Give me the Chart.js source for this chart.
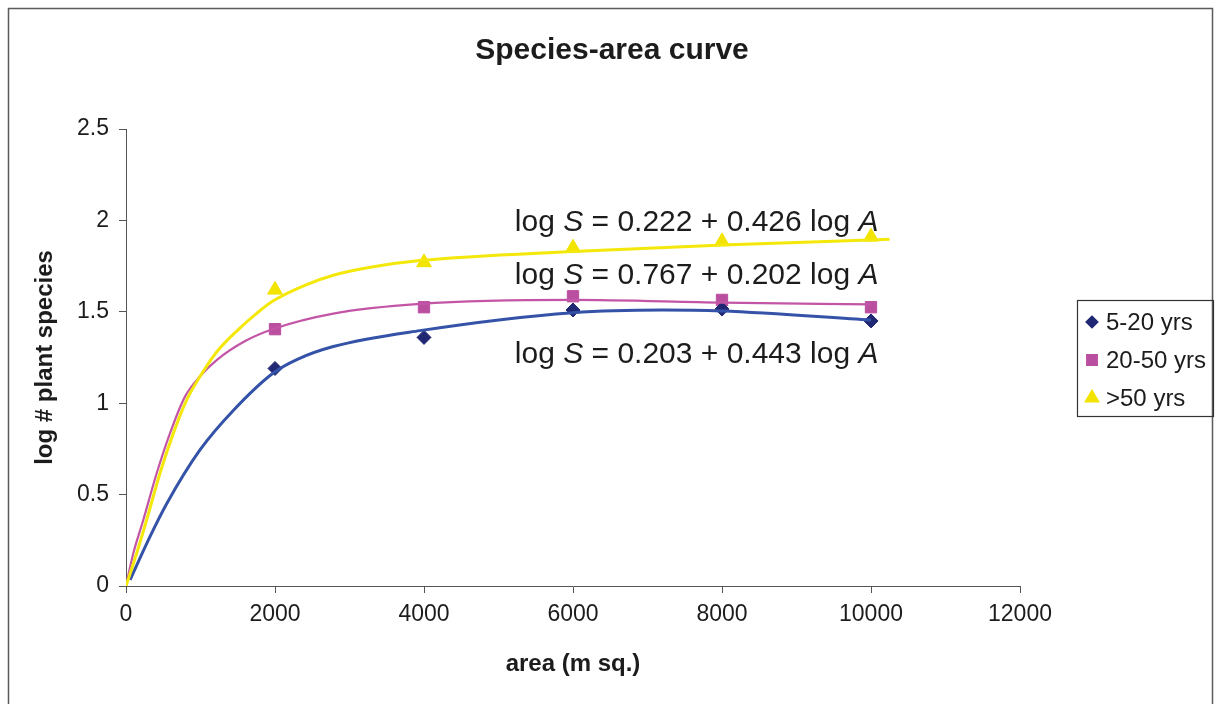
<!DOCTYPE html>
<html>
<head>
<meta charset="utf-8">
<title>Species-area curve</title>
<script src="https://cdn.jsdelivr.net/npm/chart.js@4/dist/chart.umd.min.js"></script>
<style>
	html, body { margin: 0; padding: 0; background: #fff; }
	#wrap { width: 1217px; height: 704px; }
</style>
</head>
<body>
<div id="wrap"><canvas id="speciesChart"></canvas></div>
<script>
// sampled plots (m sq.) and log of species counts
const areas = [2000, 4000, 6000, 8000, 10000];
const young = [1.19, 1.36, 1.51, 1.515, 1.45];   // 5-20 yrs
const middle = [1.405, 1.525, 1.585, 1.565, 1.525]; // 20-50 yrs
const old = [1.62, 1.77, 1.85, 1.885, 1.91];       // >50 yrs

// fitted trend curves
const youngFitX = [54, 322, 546, 993, 1440, 1977, 2300, 2783, 3946, 6000, 7200, 8000, 10000];
const youngFitY = [0.033, 0.27, 0.45, 0.744, 0.96, 1.165, 1.24, 1.31, 1.397, 1.495, 1.51, 1.504, 1.455];
const middleFitX = [0, 98, 232, 412, 590, 792, 1000, 1217, 1600, 1977, 2783, 3946, 6000, 8000, 10000];
const middleFitY = [0, 0.179, 0.361, 0.617, 0.835, 1.036, 1.15, 1.236, 1.34, 1.406, 1.49, 1.543, 1.565, 1.55, 1.541];
const oldFitX = [0, 143, 277, 456, 635, 814, 1000, 1217, 1500, 1750, 1977, 2400, 2783, 3300, 3946, 6000, 8000, 10250];
const oldFitY = [0, 0.179, 0.361, 0.617, 0.835, 1.017, 1.15, 1.28, 1.40, 1.49, 1.56, 1.645, 1.70, 1.745, 1.78, 1.83, 1.865, 1.897];

const seriesNames = ['5-20 yrs', '20-50 yrs', '>50 yrs'];
const xTicks = [0, 2000, 4000, 6000, 8000, 10000, 12000];
const yTicks = [0, 0.5, 1, 1.5, 2, 2.5];

// equation labels: log S = a + b log A
const intercepts = [0.222, 0.767, 0.203];
const slopes = [0.426, 0.202, 0.443];

const markerColors = ['#202873', '#BA4FA0', '#F2E400'];
const lineColors = ['#3453A8', '#C355A6', '#F4E80A'];

function pairs(xs, ys) {
	return xs.map((x, i) => ({ x: x, y: ys[i] }));
}

const font = '"Liberation Sans", Arial, sans-serif';
const ink = '#1c1c1c';

// frame, title, equations and legend
const decorations = {
	id: 'decorations',
	beforeDraw(chart) {
		const ctx = chart.ctx;
		ctx.save();
		ctx.fillStyle = '#fff';
		ctx.fillRect(0, 0, chart.width, chart.height);
		ctx.strokeStyle = '#5a5a5a';
		ctx.lineWidth = 1.5;
		ctx.strokeRect(8.5, 8.5, 1204, 720);
		ctx.fillStyle = ink;
		ctx.font = 'bold 30px ' + font;
		ctx.textAlign = 'center';
		ctx.textBaseline = 'middle';
		ctx.fillText('Species-area curve', 612, 51);
		ctx.restore();
	},
	afterDraw(chart) {
		const ctx = chart.ctx;
		const xs = chart.scales.x;
		const ys = chart.scales.y;
		ctx.save();

		// equations, right-aligned near the end of the curves
		const eqY = [2.0, 1.71, 1.28];
		const right = xs.getPixelForValue(10100);
		eqY.forEach((yv, k) => {
			const parts = [
				['log ', false],
				['S', true],
				[' = ' + intercepts[k].toFixed(3) + ' + ' + slopes[k].toFixed(3) + ' log ', false],
				['A', true]
			];
			let w = 0;
			parts.forEach(p => {
				ctx.font = (p[1] ? 'italic ' : '') + '30px ' + font;
				w += ctx.measureText(p[0]).width;
			});
			let x = right - w;
			const base = ys.getPixelForValue(yv) + 10.8;
			ctx.fillStyle = ink;
			ctx.textAlign = 'left';
			ctx.textBaseline = 'alphabetic';
			parts.forEach(p => {
				ctx.font = (p[1] ? 'italic ' : '') + '30px ' + font;
				ctx.fillText(p[0], x, base);
				x += ctx.measureText(p[0]).width;
			});
		});

		// legend box
		ctx.strokeStyle = '#333';
		ctx.lineWidth = 1.2;
		ctx.strokeRect(1077.5, 300.5, 136, 116);
		const rows = [322, 360, 398];
		const styles = ['rectRot', 'rect', 'triangle'];
		const radii = [6, 7.5, 8];
		rows.forEach((y, i) => {
			ctx.fillStyle = markerColors[i];
			ctx.strokeStyle = markerColors[i];
			Chart.helpers.drawPoint(ctx, { pointStyle: styles[i], radius: radii[i], borderWidth: 1 }, 1092, y);
			ctx.fillStyle = ink;
			ctx.font = '24px ' + font;
			ctx.textAlign = 'left';
			ctx.textBaseline = 'middle';
			ctx.fillText(seriesNames[i], 1106, y + 1);
		});
		ctx.restore();
	}
};

const trend = (data, color, width) => ({
	data: data,
	showLine: true,
	borderColor: color,
	borderWidth: width,
	pointRadius: 0,
	cubicInterpolationMode: 'monotone',
	order: 0
});

const marks = (data, color, style, radius) => ({
	data: data,
	showLine: false,
	pointStyle: style,
	pointRadius: radius,
	pointBackgroundColor: color,
	pointBorderColor: color,
	pointBorderWidth: 1,
	order: 1
});

new Chart(document.querySelector('#speciesChart'), {
	type: 'scatter',
	data: {
		datasets: [
			trend(pairs(oldFitX, oldFitY), lineColors[2], 3),
			trend(pairs(middleFitX, middleFitY), lineColors[1], 2.2),
			trend(pairs(youngFitX, youngFitY), lineColors[0], 3),
			marks(pairs(areas, young), markerColors[0], 'rectRot', 7),
			marks(pairs(areas, middle), markerColors[1], 'rect', 8),
			marks(pairs(areas, old), markerColors[2], 'triangle', 8.5)
		]
	},
	options: {
		responsive: true,
		maintainAspectRatio: false,
		animation: false,
		layout: { padding: { left: 10, right: 197, top: 129, bottom: 18 } },
		plugins: {
			legend: { display: false },
			tooltip: { enabled: false }
		},
		scales: {
			x: {
				type: 'linear',
				min: 0,
				max: 12000,
				afterFit: s => { s.height = 100; },
				afterBuildTicks: s => { s.ticks = xTicks.map(v => ({ value: v })); },
				grid: { drawOnChartArea: false, drawTicks: true, tickLength: 7, color: '#555' },
				border: { color: '#555', width: 1 },
				ticks: {
					color: ink,
					font: { family: font, size: 23 },
					padding: 8,
					maxRotation: 0,
					callback: v => String(v)
				},
				title: {
					display: true,
					text: 'area (m sq.)',
					color: ink,
					font: { family: font, size: 24, weight: 'bold' },
					padding: { top: 7, bottom: 7 }
				}
			},
			y: {
				type: 'linear',
				min: 0,
				max: 2.5,
				afterFit: s => { s.width = 116; },
				afterBuildTicks: s => { s.ticks = yTicks.map(v => ({ value: v })); },
				grid: { drawOnChartArea: false, drawTicks: true, tickLength: 7, color: '#555' },
				border: { color: '#555', width: 1 },
				ticks: {
					color: ink,
					font: { family: font, size: 23 },
					padding: 10,
					callback: v => String(v)
				},
				title: {
					display: true,
					text: 'log # plant species',
					color: ink,
					font: { family: font, size: 24, weight: 'bold' },
					padding: { top: 21, bottom: 21 }
				}
			}
		}
	},
	plugins: [decorations]
});
</script>
</body>
</html>
